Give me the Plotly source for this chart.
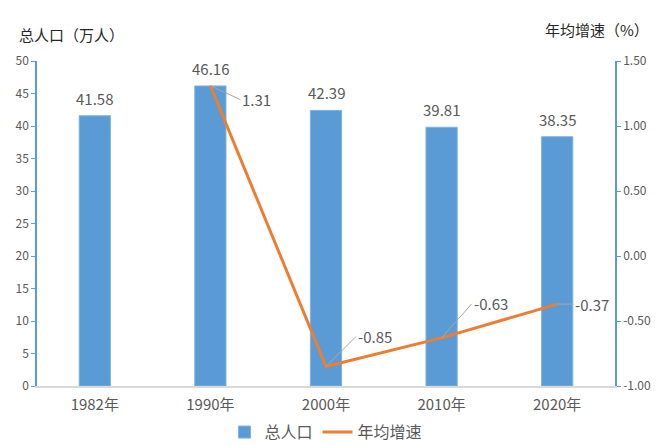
import plotly.graph_objects as go

categories = ["1982年", "1990年", "2000年", "2010年", "2020年"]
population = [41.58, 46.16, 42.39, 39.81, 38.35]
growth_cats = ["1990年", "2000年", "2010年", "2020年"]
growth = [1.31, -0.85, -0.63, -0.37]
left_ticks = [0, 5, 10, 15, 20, 25, 30, 35, 40, 45, 50]
right_ticks = [-1.0, -0.5, 0.0, 0.5, 1.0, 1.5]

FONT = "Noto Sans CJK SC, Microsoft YaHei, sans-serif"
GRAY = "#595959"
BLUE = "#5B9BD5"
ORANGE = "#ED7D31"

fig = go.Figure()
fig.add_trace(go.Bar(
    x=categories, y=population, name="总人口",
    marker=dict(color=BLUE, line=dict(color="#7FB2E0", width=1)),
))
fig.add_trace(go.Scatter(
    x=growth_cats, y=growth, name="年均增速", yaxis="y2",
    mode="lines", line=dict(color=ORANGE, width=3),
))

for c, v in zip(categories, population):
    fig.add_annotation(x=c, y=v, text=f"{v:.2f}", showarrow=False,
                       yanchor="bottom", yshift=5,
                       font=dict(color=GRAY, size=15, family=FONT))

offsets = [(30, 14), (30, -30), (30, -34), (16, 0)]
for c, v, (ax, ay) in zip(growth_cats, growth, offsets):
    fig.add_annotation(
        x=c, y=v, yref="y2", text=f"{v:.2f}",
        showarrow=True, arrowhead=0, arrowwidth=1, arrowcolor="#A6A6A6",
        ax=ax, ay=ay, xanchor="left",
        font=dict(color=GRAY, size=15, family=FONT),
    )

fig.add_annotation(x=0, y=1.0, xref="paper", yref="paper", xshift=-20, yshift=14,
                   text="总人口（万人）", showarrow=False, xanchor="left", yanchor="bottom",
                   font=dict(color="#262626", size=15, family=FONT))
fig.add_annotation(x=1, y=1.0, xref="paper", yref="paper", xshift=36, yshift=19,
                   text="年均增速（%）", showarrow=False, xanchor="right", yanchor="bottom",
                   font=dict(color="#262626", size=15, family=FONT))

fig.update_layout(
    width=659, height=437,
    margin=dict(l=29, r=52, t=53, b=59, autoexpand=False),
    paper_bgcolor="white", plot_bgcolor="white",
    bargap=0.73,
    font=dict(family=FONT, color=GRAY),
    showlegend=True,
    legend=dict(orientation="h", x=0.5, xanchor="center", y=-0.142, yanchor="middle",
                font=dict(size=16, color=GRAY, family=FONT)),
    xaxis=dict(showline=True, linecolor="#D9D9D9", linewidth=1.5, ticks="",
               tickfont=dict(size=15, color=GRAY, family=FONT), showgrid=False,
               automargin=False, ticklabelstandoff=4),
    yaxis=dict(range=[0, 50], tickvals=left_ticks, showline=True, linecolor=BLUE,
               linewidth=1.5, ticks="outside", ticklen=4, tickcolor=BLUE,
               showgrid=False, zeroline=False, automargin=False,
               tickfont=dict(size=12, color=GRAY, family=FONT)),
    yaxis2=dict(range=[-1.0, 1.5], tickvals=right_ticks,
                ticktext=[f"{t:.2f}" for t in right_ticks],
                overlaying="y", side="right", showline=True, linecolor=BLUE,
                linewidth=1.5, ticks="outside", ticklen=4, tickcolor=BLUE,
                showgrid=False, zeroline=False, automargin=False,
                tickfont=dict(size=12, color=GRAY, family=FONT)),
)

fig.write_html("out.html")
